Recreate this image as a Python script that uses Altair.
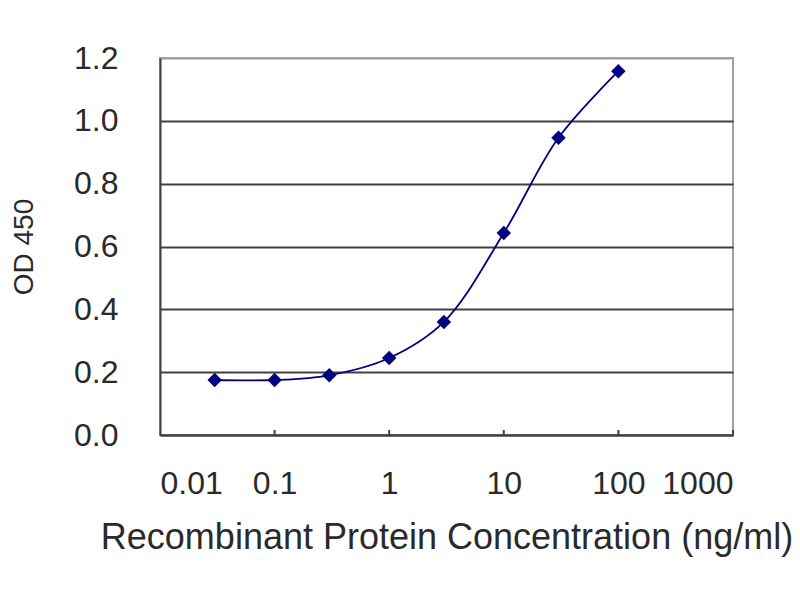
import altair as alt
import pandas as pd

# ELISA standard curve
conc = [0.03, 0.1, 0.3, 1, 3, 10, 30, 100]          # ng/ml
od450 = [0.175, 0.175, 0.19, 0.245, 0.36, 0.643, 0.946, 1.158]

x_ticks = [0.01, 0.1, 1, 10, 100, 1000]
y_ticks = [0.0, 0.2, 0.4, 0.6, 0.8, 1.0, 1.2]
inner_ticks = [0.1, 1, 10, 100, 1000]                # little marks on the x axis

navy = "#000080"
dark = "#404040"
font = "Liberation Sans"

df = pd.DataFrame({"conc": conc, "od": od450})
df_ticks = pd.DataFrame({"x": inner_ticks, "y": [0.0] * len(inner_ticks), "y2": [0.016] * len(inner_ticks)})

x_enc = alt.X("conc:Q",
              scale=alt.Scale(type="log", domain=[0.01, 1000]),
              axis=alt.Axis(title="Recombinant Protein Concentration (ng/ml)",
                            values=x_ticks, format="~g", grid=False, ticks=False,
                            labelFontSize=32, labelPadding=48, labelBaseline="middle",
                            titleFontSize=36, titleFontWeight="normal",
                            titleX=286.5, titleY=102, titleBaseline="middle",
                            domainColor=dark, domainWidth=2))
y_enc = alt.Y("od:Q",
              scale=alt.Scale(domain=[0, 1.2]),
              axis=alt.Axis(title="OD 450", values=y_ticks, format=".1f", ticks=False,
                            labelFontSize=32, labelPadding=42,
                            titleFontSize=28, titleFontWeight="normal",
                            titleX=-136, titleY=188.5, titleAngle=270, titleBaseline="middle",
                            gridColor={"condition": {"test": "datum.value >= 1.2", "value": "#a0a0a0"},
                                       "value": dark},
                            gridWidth=2, domainColor=dark, domainWidth=2))

ticks = alt.Chart(df_ticks).mark_rule(color=dark, strokeWidth=2).encode(
    x=alt.X("x:Q", scale=alt.Scale(type="log", domain=[0.01, 1000])),
    y=alt.Y("y:Q", scale=alt.Scale(domain=[0, 1.2])),
    y2="y2:Q",
)

line = alt.Chart(df).mark_line(interpolate="catmull-rom", color=navy, strokeWidth=1.8).encode(x=x_enc, y=y_enc)
points = alt.Chart(df).mark_point(shape="diamond", filled=True, size=210, color=navy, opacity=1).encode(x=x_enc, y=y_enc)

chart = (
    alt.layer(ticks, line, points)
    .properties(
        width=573,
        height=377,
        autosize=alt.AutoSizeParams(type="none"),
        padding={"left": 152, "top": 50, "right": 59, "bottom": 157},
        background="white",
    )
    .configure_axis(labelFont=font, titleFont=font, labelColor="#2a2a2a", titleColor="#2a2a2a")
    .configure_view(stroke="#a0a0a0", strokeWidth=2)
)

chart.save("out.html", embed_options={"renderer": "svg", "actions": False})
